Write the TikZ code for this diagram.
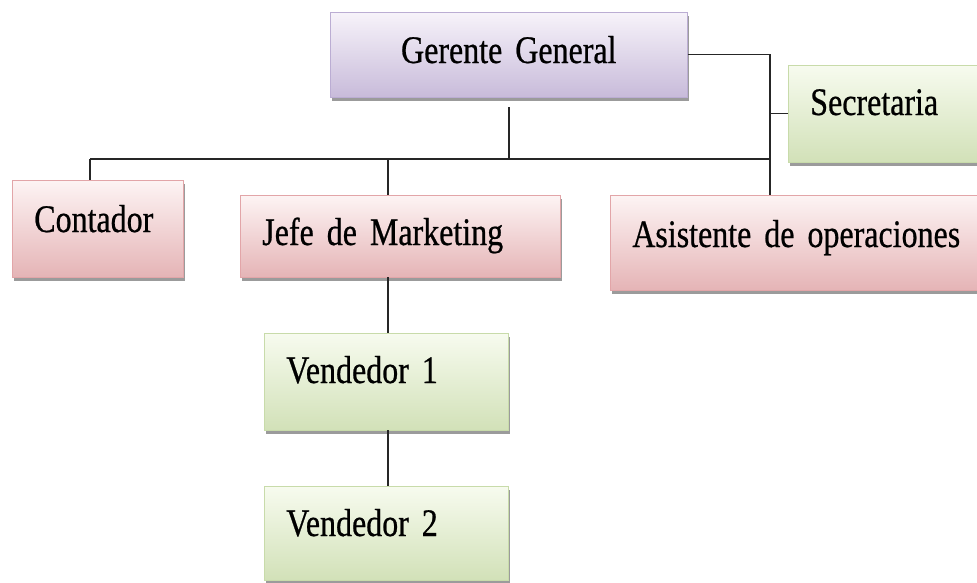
\documentclass[tikz,border=0pt]{standalone}
\usepackage{fontspec}
\setmainfont{Liberation Serif}[FakeStretch=0.82, FakeBold=0.6]
\usepackage{tikz}
\usetikzlibrary{shadows}

\definecolor{lilaTop}{HTML}{F7F3FA}
\definecolor{lilaBot}{HTML}{C8BBDA}
\definecolor{lilaLine}{HTML}{BBADD3}
\definecolor{rosaTop}{HTML}{FDF4F4}
\definecolor{rosaBot}{HTML}{E5B4B6}
\definecolor{rosaLine}{HTML}{E2A5A8}
\definecolor{verdeTop}{HTML}{F7FBEF}
\definecolor{verdeBot}{HTML}{D2E1B8}
\definecolor{verdeLine}{HTML}{C8DBAA}

\newcommand{\cajafont}{\fontsize{39}{44}\selectfont\setlength{\spaceskip}{6.5pt}}

\begin{document}
\begin{tikzpicture}[x=1pt, y=-1pt,
    cargo/.style={rectangle, draw, line width=0.6pt, inner xsep=22pt, inner ysep=0pt,
        anchor=base west, align=left, font=\cajafont,
        drop shadow={shadow xshift=1.5pt, shadow yshift=-4pt, opacity=0.6, fill=black!65}},
    lila/.style={cargo, draw=lilaLine, top color=lilaTop, bottom color=lilaBot},
    rosa/.style={cargo, draw=rosaLine, top color=rosaTop, bottom color=rosaBot},
    verde/.style={cargo, draw=verdeLine, top color=verdeTop, bottom color=verdeBot},
    linea/.style={draw=black!85, line width=1.5pt}]

        \useasboundingbox (0,0) rectangle (977,582);

        % Boxes (anchored at left edge / baseline)
        \node[lila, align=center, text width=313pt, text height=51pt, text depth=34pt] (ger) at (330,63) {Gerente General};
        \node[verde, text width=168pt, text height=50pt, text depth=47pt] (sec) at (788,115) {Secretaria};
        \node[rosa, text width=127pt, text height=52pt, text depth=45pt] (con) at (12,232) {Contador};
        \node[rosa, text width=276pt, text height=50pt, text depth=32pt] (jef) at (240,245) {Jefe de Marketing};
        \node[rosa, text width=346pt, text height=52pt, text depth=43pt] (asi) at (610,247) {Asistente de operaciones};
        \node[verde, text width=200pt, text height=50pt, text depth=47pt] (ven1) at (264,383) {Vendedor 1};
        \node[verde, text width=200pt, text height=50pt, text depth=44pt] (ven2) at (264,536) {Vendedor 2};

        % Junction points
        \coordinate (trunk) at (770,159);
        \coordinate (busL) at (90,159);
        \coordinate (jx) at (388,159);

        % Top branch
        \draw[linea] (ger.east) -| (trunk);
        \draw[linea] (trunk) -- (trunk |- asi.north);
        \draw[linea] (sec.west) -- (sec.west -| trunk);

        % Horizontal bus
        \draw[linea] (busL) -- (trunk);
        \draw[linea] ([yshift=-10pt]ger.south) -- (ger.south |- busL);
        \draw[linea] (busL) -- (busL |- con.north);
        \draw[linea] (jx) -- (jx |- jef.north);

        % Marketing chain
        \draw[linea] (jx |- jef.south) -- (jx |- ven1.north);
        \draw[linea] (jx |- ven1.south) -- (jx |- ven2.north);

    \end{tikzpicture}
\end{document}
